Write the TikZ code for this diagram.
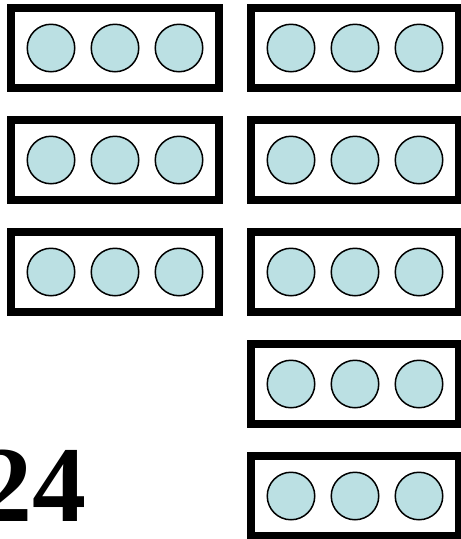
\documentclass[tikz,border=0pt]{standalone}
\usepackage{fontspec}
\setmainfont{Liberation Serif}
\usetikzlibrary{positioning}
\definecolor{beadblue}{RGB}{187,224,227}
\tikzset{
  tray/.style={draw, line width=8pt, minimum width=208pt, minimum height=80pt, inner sep=0pt},
  bead/.style={circle, draw, line width=1.5pt, fill=beadblue, minimum size=47.5pt, inner sep=0pt}
}
\begin{document}
\begin{tikzpicture}[x=1pt,y=-1pt]
  \useasboundingbox (0,0) rectangle (461,539);
  % Left column: three trays
  \foreach \r in {1,2,3} {
    \node[tray] (L\r) at (115,{48+112*(\r-1)}) {};
    \node[bead] (L\r m) at (L\r.center) {};
    \node[bead, left=15pt of L\r m] (L\r a) {};
    \node[bead, right=15pt of L\r m] (L\r c) {};
  }
  % Right column: five trays
  \foreach \r in {1,...,5} {
    \node[tray] (R\r) at (355,{48+112*(\r-1)}) {};
    \node[bead] (R\r m) at (R\r.center) {};
    \node[bead, left=15pt of R\r m] (R\r a) {};
    \node[bead, right=15pt of R\r m] (R\r c) {};
  }
  % Total
  \node[anchor=base east, inner sep=0pt, font=\bfseries\fontsize{108}{108}\selectfont] (total) at (87,521.7) {24};
\end{tikzpicture}
\end{document}
